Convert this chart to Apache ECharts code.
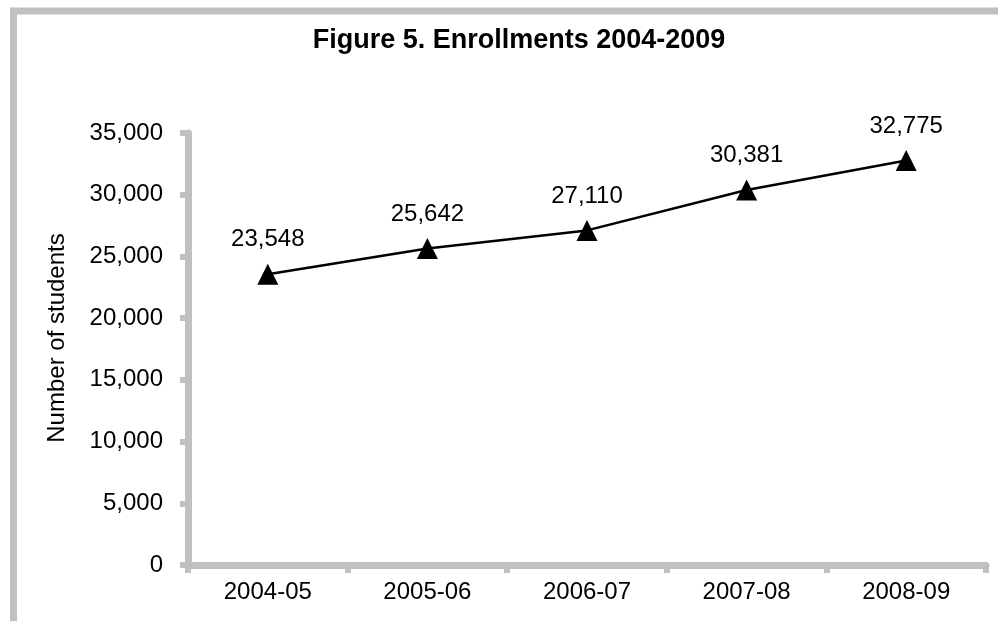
<!DOCTYPE html>
<html>
<head>
<meta charset="utf-8">
<script src="https://cdn.jsdelivr.net/npm/echarts@6/dist/echarts.min.js"></script>
<style>
  html, body { margin: 0; padding: 0; background: #fff; }
  #chart { width: 998px; height: 621px; }
</style>
</head>
<body>
<div id="chart"></div>
<script>
// school years and enrollments
var years = ['2004-05', '2005-06', '2006-07', '2007-08', '2008-09'];
var students = [23548, 25642, 27110, 30381, 32775];

var fuente = 'Arial, "Liberation Sans", sans-serif';
var gris = '#c0c0c0';

function miles(v) {
    return String(v).replace(/\B(?=(\d{3})+(?!\d))/g, ',');
}

const getOption = () => {
    return {
        animation: false,
        title: {
            text: 'Figure 5. Enrollments 2004-2009',
            left: 519,
            top: 27,
            padding: 0,
            textAlign: 'center',
            textStyle: { fontFamily: fuente, fontSize: 27, fontWeight: 'bold', color: '#000' }
        },
        graphic: [
            {
                type: 'polyline',
                shape: { points: [[13.5, 621], [13.5, 11], [998, 11]] },
                style: { stroke: gris, lineWidth: 7, fill: null }
            },
            {
                type: 'text',
                x: 57,
                y: 338,
                rotation: Math.PI / 2,
                style: {
                    text: 'Number of students',
                    fontFamily: fuente,
                    fontSize: 24,
                    fill: '#000',
                    align: 'center',
                    verticalAlign: 'middle'
                }
            }
        ],
        grid: { left: 188, right: 12, top: 133, bottom: 56 },
        xAxis: {
            type: 'category',
            data: years,
            boundaryGap: true,
            axisLine: { lineStyle: { color: gris, width: 7 } },
            axisTick: { show: true, length: 8, lineStyle: { color: gris, width: 6 } },
            axisLabel: { margin: 15, fontFamily: fuente, fontSize: 24, color: '#000' }
        },
        yAxis: {
            type: 'value',
            min: 0,
            max: 35000,
            interval: 5000,
            splitLine: { show: false },
            axisLine: { show: true, lineStyle: { color: gris, width: 7 } },
            axisTick: { show: true, length: 8, lineStyle: { color: gris, width: 6 } },
            axisLabel: {
                margin: 25,
                fontFamily: fuente,
                fontSize: 24,
                color: '#000',
                formatter: miles
            }
        },
        series: [
            {
                type: 'line',
                data: students,
                symbol: 'triangle',
                symbolSize: 21,
                lineStyle: { color: '#000', width: 2.5 },
                itemStyle: { color: '#000' },
                label: {
                    show: true,
                    position: 'top',
                    distance: 12,
                    fontFamily: fuente,
                    fontSize: 24,
                    color: '#000',
                    formatter: (p) => miles(p.value)
                }
            }
        ]
    };
};

const initChart = () => {
    const chart = echarts.init(document.getElementById('chart'));
    chart.setOption(getOption());
};

initChart();
</script>
</body>
</html>
